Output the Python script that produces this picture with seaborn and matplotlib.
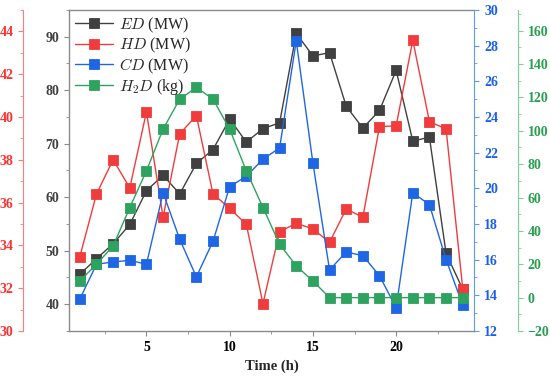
import matplotlib.pyplot as plt
from matplotlib.ticker import MultipleLocator
import pandas as pd
import seaborn as sns

# === data ===
HOURS = list(range(1, 25))
ED = [45.6, 48.5, 51.3, 54.9, 61.2, 64.1, 60.6, 66.3, 68.9, 74.6, 70.3, 72.8,
      73.9, 90.6, 86.4, 87.0, 77.0, 72.9, 76.2, 83.7, 70.5, 71.2, 49.5, 42.8]
HD = [33.47, 36.4, 38.0, 36.68, 40.23, 35.31, 39.21, 40.06, 36.4, 35.73, 34.98, 31.28,
      34.64, 35.03, 34.77, 34.14, 35.7, 35.31, 39.55, 39.58, 43.58, 39.78, 39.44, 31.98]
CD = [13.79, 15.74, 15.87, 15.96, 15.74, 19.75, 17.14, 15.03, 17.03, 20.09, 20.67, 21.63,
      22.26, 28.26, 21.42, 15.42, 16.43, 16.22, 15.1, 13.3, 19.75, 19.08, 16.0, 13.45]
H2D = [10, 20, 31, 54, 76, 101, 119, 126, 119, 101, 76, 54,
       32, 19, 10, 0, 0, 0, 0, 0, 0, 0, 0, 0]

LABELS = [r"$ED$ (MW)", r"$HD$ (MW)", r"$CD$ (MW)", r"$H_2D$ (kg)"]

# === style ===
sns.set_style("ticks")
plt.rcParams['font.family'] = ['Liberation Serif', 'DejaVu Serif']
plt.rcParams['mathtext.fontset'] = 'cm'

C_ED, C_HD, C_CD, C_H2 = "#404040", "#f03c3c", "#1f66e5", "#2ea35f"
SP_ED, SP_HD, SP_CD, SP_H2 = "#8a8a8a", "#ff7d7d", "#5f9af0", "#7fcf98"
TK_ED, TK_HD, TK_CD, TK_H2 = "#404040", "#ff3030", "#1a5ff0", "#28a050"
TICK_FS = 10

df = pd.DataFrame({"hour": HOURS, "ED": ED, "HD": HD, "CD": CD, "H2D": H2D})

fig = plt.figure(figsize=(5.5, 3.8), dpi=100)
ax = fig.add_axes([0.1255, 0.129, 0.737, 0.845])
ax_r = ax.twinx()
ax_b = ax.twinx()
ax_g = ax.twinx()

line_kw = dict(marker='s', markersize=6.5, linewidth=1.0, markeredgewidth=0.6, legend=False)
sns.lineplot(data=df, x="hour", y="ED", ax=ax, color=C_ED, markeredgecolor=C_ED, **line_kw)
sns.lineplot(data=df, x="hour", y="HD", ax=ax_r, color=C_HD, markeredgecolor=C_HD, **line_kw)
sns.lineplot(data=df, x="hour", y="CD", ax=ax_b, color=C_CD, markeredgecolor=C_CD, **line_kw)
sns.lineplot(data=df, x="hour", y="H2D", ax=ax_g, color=C_H2, markeredgecolor=C_H2, **line_kw)

for a in (ax, ax_r, ax_b, ax_g):
    a.set_ylabel("")
    a.set_xlim(0.35, 24.7)

ax.set_ylim(35, 95)
ax_r.set_ylim(30, 45)
ax_b.set_ylim(12, 30)
ax_g.set_ylim(-20, 172.5)

# main axis (ED) + x axis
ax.set_xticks([5, 10, 15, 20])
ax.xaxis.set_minor_locator(MultipleLocator(2.5))
ax.set_yticks([40, 50, 60, 70, 80, 90])
ax.yaxis.set_minor_locator(MultipleLocator(5))
ax.set_xlabel("Time (h)", fontsize=10.5, fontweight='bold', labelpad=4)
for s in ("left", "top", "bottom"):
    ax.spines[s].set_color(SP_ED)
    ax.spines[s].set_linewidth(1.0)
ax.spines["right"].set_visible(False)
ax.tick_params(axis='both', which='major', labelsize=TICK_FS, length=3.5, width=0.8,
               colors=SP_ED, direction='out')
ax.tick_params(axis='both', which='minor', length=2, width=0.6, colors=SP_ED, direction='out')
ax.tick_params(axis='y', labelcolor=TK_ED)
ax.tick_params(axis='x', labelcolor="black")

# HD axis on outer left
ax_r.yaxis.set_ticks_position('left')
ax_r.yaxis.set_label_position('left')
ax_r.spines["left"].set_position(('axes', -0.113))
ax_r.spines["left"].set_visible(True)
ax_r.spines["left"].set_color(SP_HD)
for s in ("right", "top", "bottom"):
    ax_r.spines[s].set_visible(False)
ax_r.set_yticks([30, 32, 34, 36, 38, 40, 42, 44])
ax_r.yaxis.set_minor_locator(MultipleLocator(1))
ax_r.tick_params(axis='y', which='major', labelsize=TICK_FS, length=3.5, width=0.8,
                 colors=SP_HD, labelcolor=TK_HD)
ax_r.tick_params(axis='y', which='minor', length=2, width=0.6, colors=SP_HD)

# CD axis on right
for s in ("left", "top", "bottom"):
    ax_b.spines[s].set_visible(False)
ax_b.spines["right"].set_color(SP_CD)
ax_b.set_yticks(list(range(12, 31, 2)))
ax_b.yaxis.set_minor_locator(MultipleLocator(1))
ax_b.tick_params(axis='y', which='major', labelsize=TICK_FS, length=3.5, width=0.8,
                 colors=SP_CD, labelcolor=TK_CD)
ax_b.tick_params(axis='y', which='minor', length=2, width=0.6, colors=SP_CD)

# H2D axis on outer right
for s in ("left", "top", "bottom"):
    ax_g.spines[s].set_visible(False)
ax_g.spines["right"].set_position(('axes', 1.107))
ax_g.spines["right"].set_color(SP_H2)
ax_g.set_yticks(list(range(-20, 161, 20)))
ax_g.yaxis.set_minor_locator(MultipleLocator(10))
ax_g.tick_params(axis='y', which='major', labelsize=TICK_FS, length=3.5, width=0.8,
                 colors=SP_H2, labelcolor=TK_H2)
ax_g.tick_params(axis='y', which='minor', length=2, width=0.6, colors=SP_H2)

for a in (ax, ax_r, ax_b, ax_g):
    for lab in a.get_yticklabels() + a.get_xticklabels():
        lab.set_fontweight('bold')

# legend from all four lines, drawn on the top axes
handles = [ax.lines[0], ax_r.lines[0], ax_b.lines[0], ax_g.lines[0]]
ax_g.legend(handles, LABELS, loc="upper left", frameon=False, fontsize=11.5,
            handlelength=2.4, handletextpad=0.4, labelspacing=0.08,
            borderpad=0.15, borderaxespad=0.2)

fig.savefig("out.png", dpi=100)
